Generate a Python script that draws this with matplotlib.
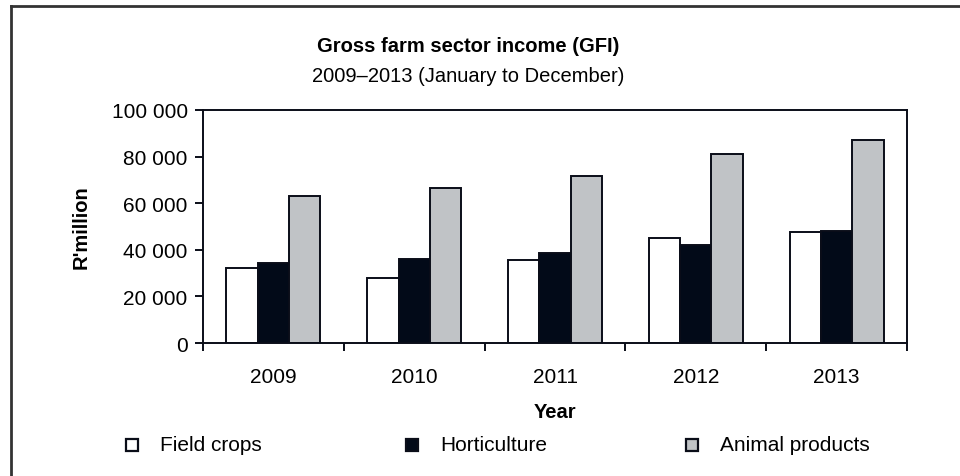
import numpy as np
import matplotlib.pyplot as plt
from matplotlib.lines import Line2D
from matplotlib.patches import Rectangle
from matplotlib.ticker import FuncFormatter, FixedLocator

plt.rcParams['font.family'] = ['Liberation Sans', 'DejaVu Sans']

years = ['2009', '2010', '2011', '2012', '2013']
field_crops = [32200, 28000, 35700, 45200, 47600]
horticulture = [34300, 35900, 38500, 42100, 47900]
animal_products = [63100, 66500, 71700, 81100, 87100]

series = [field_crops, horticulture, animal_products]
labels = ['Field crops', 'Horticulture', 'Animal products']
colors = ['#ffffff', '#020a18', '#c0c3c6']
edge = '#0a0d18'

W, H = 960, 477
fig = plt.figure(figsize=(9.6, 4.77), dpi=100)
ax = fig.add_axes([203 / W, 1 - 344 / H, (907 - 203) / W, (344 - 111) / H])

x = np.arange(len(years))
w = 1 / 4.5
for i, (vals, c) in enumerate(zip(series, colors)):
    ax.bar(x + (i - 1) * w, vals, width=w, color=c, edgecolor=edge, linewidth=1.4, zorder=2)

ax.set_xlim(-0.5, len(years) - 0.5)
ax.set_ylim(0, 100000)
ax.set_yticks(np.arange(0, 100001, 20000))
ax.yaxis.set_major_formatter(FuncFormatter(lambda v, p: f'{int(v):,}'.replace(',', ' ')))
ax.set_xticks(x)
ax.set_xticklabels(years)
ax.xaxis.set_minor_locator(FixedLocator(np.arange(-0.5, len(years), 1.0)))
ax.tick_params(axis='x', which='major', length=0, pad=17, labelsize=15)
ax.tick_params(axis='x', which='minor', length=6, width=1.4, direction='out', color=edge)
ax.tick_params(axis='y', length=6, width=1.4, direction='out', color=edge, pad=5, labelsize=15)
for s in ax.spines.values():
    s.set_linewidth(1.4)
    s.set_color(edge)

ax.set_ylabel("R'million", fontsize=14.5, fontweight='bold', labelpad=15)
ax.set_xlabel('Year', fontsize=14.5, fontweight='bold', labelpad=12)

fig.text(468 / W, 1 - 46 / H, 'Gross farm sector income (GFI)', ha='center', va='center',
         fontsize=14.5, fontweight='bold')
fig.text(468 / W, 1 - 77 / H, '2009\u20132013 (January to December)', ha='center', va='center',
         fontsize=14.5)

# legend laid out like the original, evenly spaced
for i, (lab, c) in enumerate(zip(labels, colors)):
    lx = 126 + i * 280
    fig.add_artist(Rectangle((lx / W, 1 - 452 / H), 12 / W, 12 / H, transform=fig.transFigure,
                             facecolor=c, edgecolor=edge, linewidth=1.6))
    fig.text((lx + 34) / W, 1 - 446 / H, lab, ha='left', va='center', fontsize=15)

# outer frame (cropped at right and bottom)
fig.add_artist(Line2D([11 / W, 11 / W], [0, 1 - 7 / H], transform=fig.transFigure, color='#333333', lw=2))
fig.add_artist(Line2D([11 / W, 1], [1 - 7 / H, 1 - 7 / H], transform=fig.transFigure, color='#333333', lw=2))

fig.savefig('out.png', dpi=100)
